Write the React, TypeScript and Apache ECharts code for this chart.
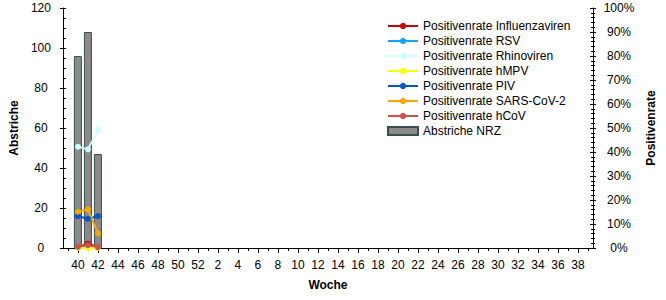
import React, { useEffect, useRef } from "react";
import * as echarts from "echarts";

const weeks: string[] = [
  "39", "40", "41", "42", "43", "44", "45", "46", "47", "48", "49", "50", "51", "52",
  "1", "2", "3", "4", "5", "6", "7", "8", "9", "10", "11", "12", "13", "14", "15", "16",
  "17", "18", "19", "20", "21", "22", "23", "24", "25", "26", "27", "28", "29", "30",
  "31", "32", "33", "34", "35", "36", "37", "38", "39",
];

// values for weeks 40, 41, 42 (index 1..3)
const abstriche: number[] = [96, 108, 47];
const influenza: number[] = [0.3, 1.8, 0.3];
const rsv: number[] = [0, 0.6, 0];
const rhino: number[] = [42.2, 41.1, 49.2];
const hmpv: number[] = [0, 0, 0];
const piv: number[] = [13.3, 12.1, 13.3];
const sars: number[] = [15.1, 16.1, 6.1];
const hcov: number[] = [0.5, 1.2, 0.4];

const leftTicks = { min: 0, max: 120, interval: 20 };
const rightTicks = { min: 0, max: 100, interval: 10 };

const FONT = "Liberation Sans, Arial, sans-serif";

function pad(vals: number[]): (number | null)[] {
  const out: (number | null)[] = weeks.map(() => null);
  vals.forEach((v, i) => {
    out[i + 1] = v;
  });
  return out;
}

const lineDefs = [
  { name: "Positivenrate Influenzaviren", color: "#cc0000", data: influenza },
  { name: "Positivenrate RSV", color: "#1aa3ee", data: rsv },
  { name: "Positivenrate Rhinoviren", color: "#ccffff", data: rhino },
  { name: "Positivenrate hMPV", color: "#ffff00", data: hmpv },
  { name: "Positivenrate PIV", color: "#0055cc", data: piv },
  { name: "Positivenrate SARS-CoV-2", color: "#ffa500", data: sars },
  { name: "Positivenrate hCoV", color: "#d05050", data: hcov },
];

export default function App() {
  const ref = useRef<HTMLDivElement>(null);
  useEffect(() => {
    if (!ref.current) return;
    const chart = echarts.init(ref.current, undefined, { renderer: "svg" });
    const black = "#000";
    const isOdd = (i: number) => i % 2 === 1;
    const option: any = {
      animation: false,
      backgroundColor: "#fff",
      textStyle: { fontFamily: FONT },
      grid: { left: 62, right: 73, top: 8, bottom: 52, containLabel: false },
      legend: {
        orient: "vertical",
        left: 382,
        top: 14,
        itemWidth: 30,
        itemHeight: 8,
        itemGap: 1,
        textStyle: { fontFamily: FONT, fontSize: 12, color: black, lineHeight: 14 },
        data: [
          ...lineDefs.map((d) => ({ name: d.name })),
          { name: "Abstriche NRZ", icon: "rect" },
        ],
        selectedMode: false,
      },
      xAxis: [
        {
          type: "category",
          position: "bottom",
          data: weeks,
          boundaryGap: true,
          name: "Woche",
          nameLocation: "middle",
          nameGap: 31,
          nameTextStyle: { fontFamily: FONT, fontSize: 12, fontWeight: "bold", color: black },
          axisLine: { show: true, lineStyle: { color: black, width: 1 } },
          axisTick: { show: true, alignWithLabel: true, interval: 0, length: 3, lineStyle: { color: black } },
          axisLabel: { interval: (i: number) => isOdd(i), margin: 11, fontFamily: FONT, fontSize: 12, color: black },
          splitLine: { show: false },
        },
        {
          type: "category",
          position: "bottom",
          data: weeks,
          boundaryGap: true,
          axisLine: { show: false },
          axisTick: { show: true, alignWithLabel: true, interval: (i: number) => isOdd(i), length: 5, lineStyle: { color: black } },
          axisLabel: { show: false },
          splitLine: { show: false },
        },
        {
          type: "category",
          position: "top",
          data: weeks,
          boundaryGap: true,
          axisLine: { show: true, lineStyle: { color: black, width: 1 } },
          axisTick: { show: true, inside: true, alignWithLabel: true, interval: 0, length: 3, lineStyle: { color: black } },
          axisLabel: { show: false },
          splitLine: { show: false },
        },
      ],
      yAxis: [
        {
          type: "value",
          position: "left",
          ...leftTicks,
          name: "Abstriche",
          nameLocation: "middle",
          nameRotate: 90,
          nameGap: 42,
          nameTextStyle: { fontFamily: FONT, fontSize: 12, fontWeight: "bold", color: black },
          axisLine: { show: true, lineStyle: { color: black } },
          axisTick: { show: true, inside: true, length: 3, lineStyle: { color: black } },
          minorTick: { show: true, splitNumber: 4, length: 3, lineStyle: { color: black } },
          axisLabel: { align: "center", margin: 22, fontFamily: FONT, fontSize: 12, color: black },
          splitLine: { show: false },
        },
        {
          type: "value",
          position: "right",
          ...rightTicks,
          name: "Positivenrate",
          nameLocation: "middle",
          nameRotate: 90,
          nameGap: 50,
          nameTextStyle: { fontFamily: FONT, fontSize: 12, fontWeight: "bold", color: black },
          axisLine: { show: true, lineStyle: { color: black } },
          axisTick: { show: true, inside: true, length: 3, lineStyle: { color: black } },
          minorTick: { show: true, splitNumber: 5, length: 2, lineStyle: { color: black } },
          axisLabel: { align: "center", margin: 26, formatter: "{value}%", fontFamily: FONT, fontSize: 12, color: black },
          splitLine: { show: false },
        },
        {
          type: "value",
          position: "left",
          ...leftTicks,
          axisLine: { show: false },
          axisTick: { show: true, inside: false, length: 3, lineStyle: { color: black } },
          axisLabel: { show: false },
          splitLine: { show: false },
        },
        {
          type: "value",
          position: "right",
          ...rightTicks,
          axisLine: { show: false },
          axisTick: { show: true, inside: false, length: 3, lineStyle: { color: black } },
          minorTick: { show: true, splitNumber: 5, length: 2, lineStyle: { color: black } },
          axisLabel: { show: false },
          splitLine: { show: false },
        },
      ],
      series: [
        {
          name: "Abstriche NRZ",
          type: "bar",
          xAxisIndex: 0,
          yAxisIndex: 0,
          data: pad(abstriche),
          barWidth: 8,
          itemStyle: { color: "#8c8a86", borderColor: "#345050", borderWidth: 1 },
        },
        ...lineDefs.map((d) => ({
          name: d.name,
          type: "line",
          xAxisIndex: 0,
          yAxisIndex: 1,
          data: pad(d.data),
          symbol: "circle",
          symbolSize: 6,
          showSymbol: true,
          connectNulls: false,
          lineStyle: { color: d.color, width: 2 },
          itemStyle: { color: d.color },
        })),
      ],
    };
    chart.setOption(option);
    return () => chart.dispose();
  }, []);
  return <div ref={ref} style={{ width: 666, height: 300, position: "absolute", left: 0, top: 0 }} />;
}
